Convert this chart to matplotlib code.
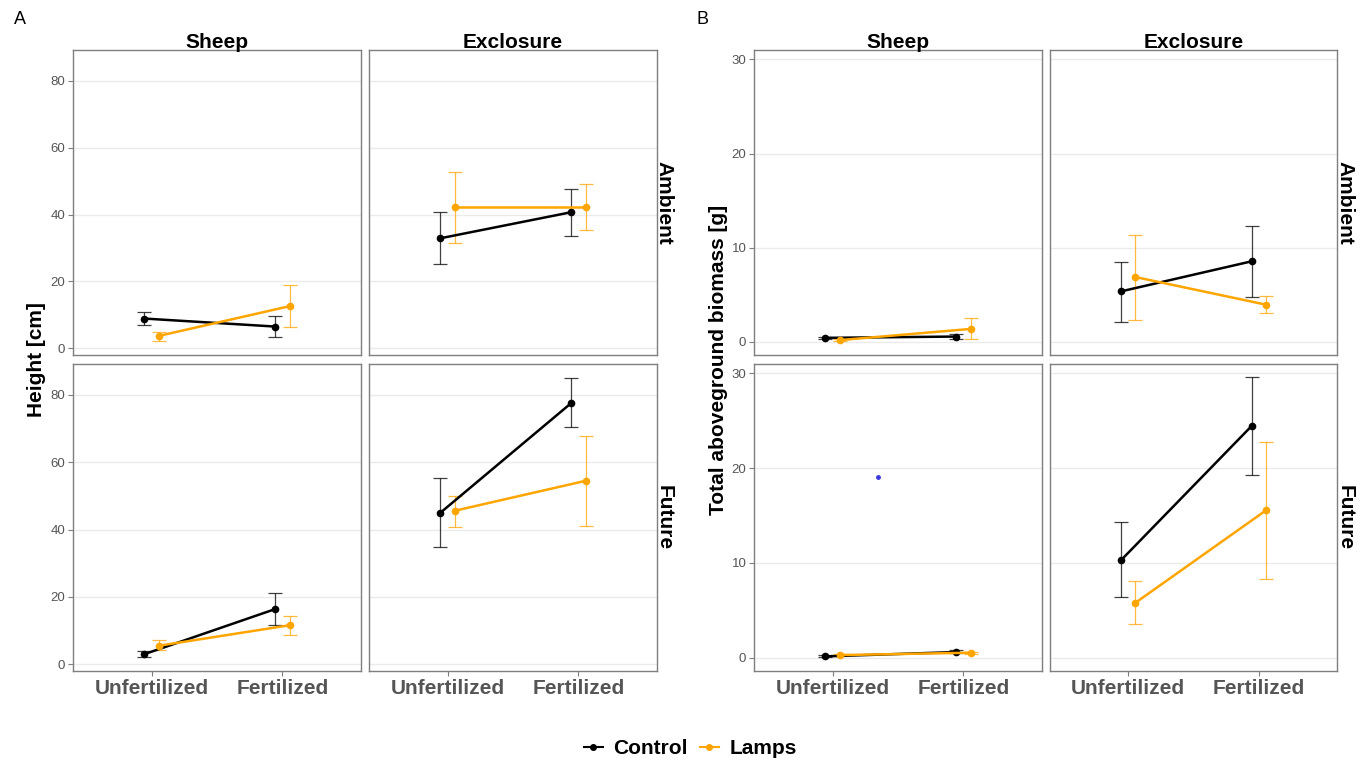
import numpy as np
import matplotlib.pyplot as plt
from matplotlib.lines import Line2D

plt.rcParams['font.family'] = ['Liberation Sans', 'DejaVu Sans']

# facets in order: Sheep/Ambient, Exclosure/Ambient, Sheep/Future, Exclosure/Future
fert_levels = ['Unfertilized', 'Fertilized']
grazing = ['Sheep', 'Exclosure']
climate = ['Ambient', 'Future']

# A - height [cm]
h_ctrl = [[8.9, 6.5], [32.9, 40.7], [3.0, 16.4], [45.0, 77.6]]
h_ctrl_lo = [[6.9, 3.5], [25.1, 33.7], [2.2, 11.6], [34.8, 70.5]]
h_ctrl_hi = [[11.0, 9.7], [40.8, 47.6], [3.8, 21.1], [55.2, 84.9]]
h_lamp = [[3.7, 12.6], [42.3, 42.3], [5.5, 11.6], [45.6, 54.5]]
h_lamp_lo = [[2.3, 6.5], [31.4, 35.3], [4.2, 8.7], [40.8, 41.1]]
h_lamp_hi = [[4.9, 18.9], [52.7, 49.0], [7.1, 14.3], [50.0, 67.8]]

# B - total aboveground biomass [g]
b_ctrl = [[0.42, 0.56], [5.36, 8.55], [0.14, 0.6], [10.3, 24.45]]
b_ctrl_lo = [[0.32, 0.3], [2.07, 4.72], [0.05, 0.45], [6.4, 19.3]]
b_ctrl_hi = [[0.52, 0.8], [8.5, 12.35], [0.25, 0.8], [14.3, 29.6]]
b_lamp = [[0.18, 1.37], [6.88, 3.95], [0.28, 0.53], [5.8, 15.55]]
b_lamp_lo = [[0.1, 0.28], [2.36, 3.03], [0.2, 0.4], [3.6, 8.35]]
b_lamp_hi = [[0.28, 2.5], [11.3, 4.87], [0.36, 0.65], [8.1, 22.8]]

# stray point in B, Sheep/Future
stray_x, stray_y = 1.345, 19.07

W, H = 1364, 762
fig = plt.figure(figsize=(W / 100, H / 100), dpi=100)

def px_axes(x0, y0, x1, y1):
    return fig.add_axes([x0 / W, 1 - y1 / H, (x1 - x0) / W, (y1 - y0) / H])

cols_A = [(73, 361), (369, 657)]
cols_B = [(754, 1042), (1050, 1337)]
rows = [(50, 355), (364, 671)]

ORANGE = '#FFA500'
dodge = 0.055
xpos = np.arange(1, 3)


def draw_panel(cols, mean_c, lo_c, hi_c, mean_l, lo_l, hi_l, ylim, yticks, ylabel, ylab_x, strip_x):
    axes = []
    for r in range(2):
        for c in range(2):
            k = r * 2 + c
            ax = px_axes(cols[c][0], rows[r][0], cols[c][1], rows[r][1])
            axes.append(ax)
            ax.set_xlim(0.4, 2.6)
            ax.set_ylim(*ylim)
            ax.set_yticks(yticks)
            ax.set_xticks(xpos)
            ax.grid(axis='y', color='#ebebeb', lw=1.0)
            ax.set_axisbelow(True)
            for s in ax.spines.values():
                s.set_color('#7f7f7f')
                s.set_linewidth(1.0)
            ax.tick_params(length=3.5, width=0.8, color='#7f7f7f', pad=2)
            for mean, lo, hi, col, dx in [(mean_c, lo_c, hi_c, 'black', -dodge),
                                          (mean_l, lo_l, hi_l, ORANGE, dodge)]:
                m = np.array(mean[k])
                yerr = [m - np.array(lo[k]), np.array(hi[k]) - m]
                ax.errorbar(xpos + dx, m, yerr=yerr, fmt='none', ecolor=col,
                            elinewidth=0.9, capsize=4.8, capthick=0.9, alpha=0.75, zorder=2)
                ax.plot(xpos + dx, m, color=col, lw=1.8, marker='o', ms=4.5, zorder=3)
            if c == 0:
                ax.tick_params(axis='y', labelsize=9.5, labelcolor='#555555')
            else:
                ax.tick_params(axis='y', left=False, labelleft=False)
            if r == 1:
                ax.set_xticklabels(fert_levels, fontsize=15, fontweight='bold', color='#555555')
            else:
                ax.tick_params(axis='x', bottom=False, labelbottom=False)
            if r == 0:
                fig.text((cols[c][0] + cols[c][1]) / 2 / W, 1 - 42 / H, grazing[c],
                         ha='center', va='center', fontsize=15, fontweight='bold')
            if c == 1:
                fig.text(strip_x / W, 1 - (rows[r][0] + rows[r][1]) / 2 / H, climate[r],
                         ha='center', va='center', rotation=-90, fontsize=15, fontweight='bold')
    fig.text(ylab_x / W, 1 - 360 / H, ylabel, rotation=90, ha='center', va='center',
             fontsize=15, fontweight='bold')
    return axes


draw_panel(cols_A, h_ctrl, h_ctrl_lo, h_ctrl_hi, h_lamp, h_lamp_lo, h_lamp_hi,
           (-2.0, 89.2), [0, 20, 40, 60, 80], 'Height [cm]', 37, 664)
axB = draw_panel(cols_B, b_ctrl, b_ctrl_lo, b_ctrl_hi, b_lamp, b_lamp_lo, b_lamp_hi,
                 (-1.4, 31.0), [0, 10, 20, 30], 'Total aboveground biomass [g]', 718, 1345)
axB[2].plot([stray_x], [stray_y], 'o', color='#3a3adf', ms=2.5, zorder=4)

fig.text(20 / W, 1 - 20 / H, 'A', fontsize=13, ha='center', va='center')
fig.text(702 / W, 1 - 20 / H, 'B', fontsize=13, ha='center', va='center')

handles = [Line2D([], [], color='black', lw=1.5, marker='o', ms=4),
           Line2D([], [], color=ORANGE, lw=1.5, marker='o', ms=4)]
leg = fig.legend(handles, ['Control', 'Lamps'], loc='center', bbox_to_anchor=(0.506, 1 - 749 / H),
                 ncol=2, frameon=False, handlelength=0.9, handletextpad=0.5, columnspacing=0.6,
                 prop={'size': 15, 'weight': 'bold'})

fig.savefig('out.png', dpi=100)
